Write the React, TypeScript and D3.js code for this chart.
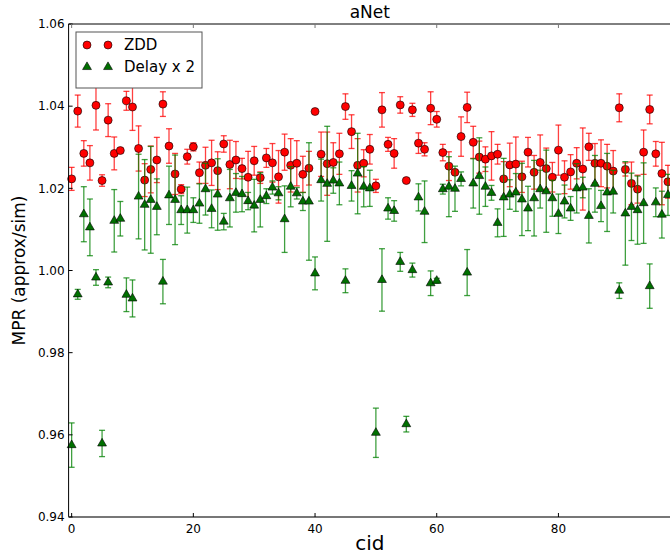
import * as d3 from "d3";

// chart "aNet": MPR per cid for two methods, with error bars
const cids = d3.range(0, 99);

const zddValues = [
  1.0223, 1.0388, 1.0285, 1.0262, 1.0402, 1.0219, 1.0366, 1.0285, 1.0292, 1.0413,
  1.0398, 1.0297, 1.022, 1.0246, 1.0269, 1.0405, 1.0303, 1.0235, 1.0198, 1.0277,
  1.0301, 1.0238, 1.0256, 1.0262, 1.0243, 1.0308, 1.0258, 1.0269, 1.0248, 1.0227,
  1.0267, 1.0226, 1.0274, 1.0262, 1.0228, 1.0288, 1.0256, 1.0261, 1.0234, 1.0249,
  1.0387, 1.0283, 1.026, 1.0263, 1.0284, 1.0399, 1.0338, 1.0256, 1.0261, 1.0295,
  1.0206, 1.0391, 1.0307, 1.0285, 1.0403, 1.0219, 1.0391, 1.031, 1.0295, 1.0395,
  1.0368, 1.0287, 1.0254, 1.0239, 1.0326, 1.0397, 1.0312, 1.0276, 1.0271, 1.0279,
  1.0283, 1.0223, 1.0257, 1.0259, 1.0228, 1.0288, 1.0239, 1.0263, 1.0248, 1.0227,
  1.0293, 1.0227, 1.024, 1.0261, 1.0247, 1.0301, 1.0261, 1.0261, 1.0254, 1.0242,
  1.0396, 1.0246, 1.0212, 1.0198, 1.0288, 1.0392, 1.0284, 1.0236, 1.0216,
];
const zddErrors = [
  0.0028, 0.0039, 0.0031, 0.0042, 0.006, 0.0014, 0.004, 0.004, 0.0005, 0.0023,
  0.0057, 0.0055, 0.004, 0.0057, 0.0055, 0.003, 0.0042, 0.005, 0.0011, 0.0018,
  0.001, 0.0026, 0.0044, 0.0055, 0.0046, 0.002, 0.0059, 0.0045, 0.0025, 0.0063,
  0.0035, 0.0014, 0.0023, 0.0047, 0.0064, 0.0044, 0.0065, 0.0055, 0.0044, 0.0041,
  0.0003, 0.0054, 0.0077, 0.0048, 0.005, 0.0031, 0.0041, 0.0065, 0.0033, 0.0036,
  0.0016, 0.0042, 0.0017, 0.0036, 0.002, 0.0004, 0.0016, 0.0025, 0.0016, 0.004,
  0.0019, 0.002, 0.0035, 0.0005, 0.0048, 0.0037, 0.0039, 0.0039, 0.003, 0.0059,
  0.0024, 0.0042, 0.0053, 0.0066, 0.0038, 0.0036, 0.0041, 0.0067, 0.005, 0.0036,
  0.0061, 0.004, 0.0042, 0.0038, 0.01, 0.0033, 0.0048, 0.0057, 0.0053, 0.005,
  0.0034, 0.0016, 0.0052, 0.0034, 0.0054, 0.0035, 0.003, 0.0076, 0.004,
];

const delayValues = [
  0.9575, 0.9942, 1.0137, 1.0105, 0.9983, 0.9579, 0.9971, 1.0121, 1.0126, 0.9941,
  0.9932, 1.018, 1.016, 1.0172, 1.0155, 0.9973, 1.0183, 1.0172, 1.0147, 1.0147,
  1.0147, 1.0163, 1.0198, 1.015, 1.0185, 1.0119, 1.0176, 1.0189, 1.0186, 1.0169,
  1.0158, 1.0172, 1.0181, 1.0202, 1.0188, 1.0125, 1.0204, 1.0188, 1.0168, 1.0168,
  0.9993, 1.022, 1.0211, 1.0219, 1.0212, 0.9975, 1.0206, 1.0236, 1.0204, 1.02,
  0.9605, 0.9977, 1.0151, 1.0145, 1.0021, 0.9626, 1.0001, 1.0178, 1.0143, 0.9969,
  0.9975, 1.0198, 1.0204, 1.0199, 1.0223, 0.9995, 1.0212, 1.023, 1.0204, 1.0189,
  1.0116, 1.0178, 1.0185, 1.019, 1.0173, 1.0151, 1.0176, 1.0198, 1.0193, 1.0176,
  1.0138, 1.0168, 1.0151, 1.02, 1.0202, 1.0133, 1.0211, 1.0157, 1.019, 1.0192,
  0.9951, 1.0139, 1.0155, 1.0147, 1.0164, 0.9962, 1.0166, 1.0136, 1.0184,
];
const delayErrors = [
  0.0054, 0.0012, 0.0067, 0.0069, 0.0019, 0.0032, 0.0013, 0.0076, 0.0042, 0.0041,
  0.0045, 0.0103, 0.011, 0.013, 0.0068, 0.0054, 0.0071, 0.0109, 0.0035, 0.0056,
  0.003, 0.0048, 0.0063, 0.0046, 0.0087, 0.002, 0.007, 0.0047, 0.0043, 0.0021,
  0.0064, 0.0066, 0.0018, 0.0016, 0.0016, 0.0081, 0.0049, 0.0014, 0.0022, 0.0143,
  0.004, 0.0051, 0.014, 0.0031, 0.0052, 0.0029, 0.0037, 0.0098, 0.0049, 0.0044,
  0.006, 0.0076, 0.0026, 0.0025, 0.0023, 0.0019, 0.0017, 0.0033, 0.0075, 0.003,
  0.0006, 0.0012, 0.0073, 0.0055, 0.0017, 0.0056, 0.006, 0.0093, 0.0048, 0.0018,
  0.0034, 0.0095, 0.0036, 0.0046, 0.0088, 0.0054, 0.0092, 0.0046, 0.01, 0.0044,
  0.0048, 0.004, 0.0029, 0.006, 0.0025, 0.0066, 0.0069, 0.0038, 0.0095, 0.0052,
  0.0019, 0.0126, 0.0082, 0.0083, 0.0098, 0.0054, 0.0035, 0.0057, 0.005,
];

const yTicks = [0.94, 0.96, 0.98, 1.0, 1.02, 1.04, 1.06];
const xTicks = [0, 20, 40, 60, 80];
const seriesNames = ["ZDD", "Delay x 2"];

const W = 670;
const H = 556;
const font = "'DejaVu Sans', sans-serif";

export default function App() {
  const x = d3.scaleLinear().domain([-0.5, 98.5]).range([68.6, 671]);
  const y = d3.scaleLinear().domain([0.94, 1.06]).range([517, 24]);
  const fmt = d3.format(".2f");
  const tri = d3.symbol().type(d3.symbolTriangle).size(34)()!;
  const [x0, x1] = x.range();
  const [y0, y1] = y.range();

  const zdd = cids.map((c, i) => ({ c, v: zddValues[i], e: zddErrors[i] }));
  const delay = cids.map((c, i) => ({ c, v: delayValues[i], e: delayErrors[i] }));

  // error bars like matplotlib: vertical line + caps
  const errBars = (data: { c: number; v: number; e: number }[], color: string) =>
    data.map(d => {
      const cx = x(d.c);
      const top = y(d.v + d.e);
      const bot = y(d.v - d.e);
      return (
        <g key={d.c} stroke={color} strokeWidth={1.3} strokeOpacity={0.75}>
          <line x1={cx} x2={cx} y1={top} y2={bot} />
          <line x1={cx - 3} x2={cx + 3} y1={top} y2={top} />
          <line x1={cx - 3} x2={cx + 3} y1={bot} y2={bot} />
        </g>
      );
    });

  return (
    <div style={{ position: "absolute", left: 0, top: 0 }}>
      <svg width={W} height={H} style={{ display: "block", background: "#fff" }} fontFamily={font}>
        <text x={(x0 + x1) / 2} y={18} textAnchor="middle" fontSize={17}>aNet</text>

        {/* ZDD */}
        {errBars(zdd, "red")}
        {zdd.map(d => (
          <circle key={d.c} cx={x(d.c)} cy={y(d.v)} r={4} fill="red" stroke="#000" strokeWidth={0.6} />
        ))}

        {/* Delay x 2 */}
        {errBars(delay, "green")}
        {delay.map(d => (
          <path key={d.c} d={tri} transform={`translate(${x(d.c)},${y(d.v)})`} fill="#007000" stroke="#000" strokeWidth={0.6} />
        ))}

        {/* spines */}
        <line x1={x0} x2={x1} y1={y1} y2={y1} stroke="#000" />
        <line x1={x0} x2={x0} y1={y1} y2={y0} stroke="#000" />
        <line x1={x1} x2={x1} y1={y1} y2={y0} stroke="#000" />
        <line x1={x0} x2={x1} y1={y0} y2={y0} stroke="#777" strokeWidth={2} />

        {/* y ticks */}
        {yTicks.map(t => (
          <g key={t}>
            <line x1={x0} x2={x0 + 4} y1={y(t)} y2={y(t)} stroke="#000" />
            <text x={x0 - 4} y={y(t)} dy="0.35em" textAnchor="end" fontSize={12}>{fmt(t)}</text>
          </g>
        ))}

        {/* x ticks */}
        {xTicks.map(t => (
          <g key={t}>
            <line x1={x(t)} x2={x(t)} y1={y0} y2={y0 - 4} stroke="#000" />
            <line x1={x(t)} x2={x(t)} y1={y1} y2={y1 + 4} stroke="#777" />
            <text x={x(t)} y={y0 + 16} textAnchor="middle" fontSize={12}>{t}</text>
          </g>
        ))}

        <text x={(x0 + x1) / 2} y={550} textAnchor="middle" fontSize={20}>cid</text>
        <text transform={`translate(25,${(y0 + y1) / 2}) rotate(-90)`} textAnchor="middle" fontSize={17}>MPR (approx/sim)</text>

        {/* legend */}
        <g>
          <rect x={76} y={32} width={126} height={56} fill="#fff" stroke="#555" />
          {[87, 108].map(lx => (
            <circle key={lx} cx={lx} cy={45} r={4} fill="red" stroke="#000" strokeWidth={0.6} />
          ))}
          {[87, 108].map(lx => (
            <path key={lx} d={tri} transform={`translate(${lx},67)`} fill="#007000" stroke="#000" strokeWidth={0.6} />
          ))}
          <text x={124} y={45} dy="0.35em" fontSize={15}>{seriesNames[0]}</text>
          <text x={124} y={67} dy="0.35em" fontSize={15}>{seriesNames[1]}</text>
        </g>
      </svg>
    </div>
  );
}
